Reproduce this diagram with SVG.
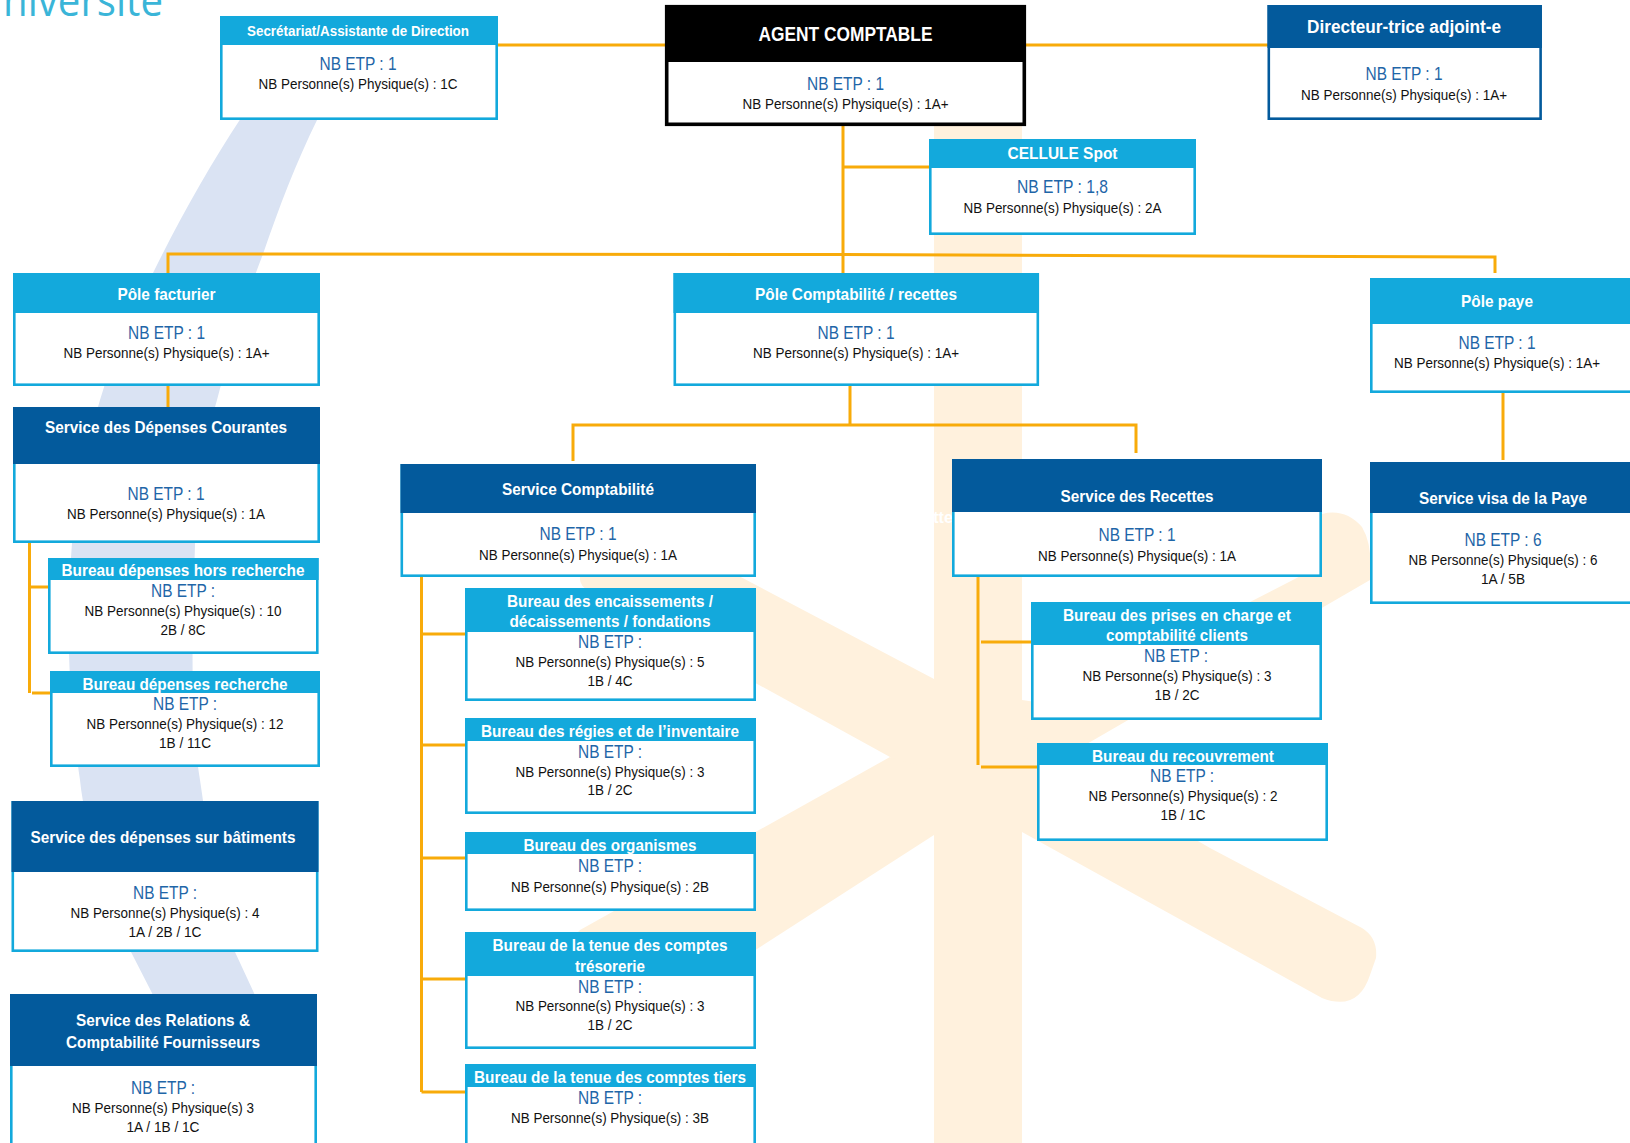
<svg xmlns="http://www.w3.org/2000/svg" width="1630" height="1143" viewBox="0 0 1630 1143">
<style>
text{font-family:"Liberation Sans",Arial,sans-serif;text-anchor:middle}
.box{fill:#fff;stroke:#13a9dc;stroke-width:2.6}
.hl{fill:#13a9dc}
.hd{fill:#035a9c}
.t{fill:#fff;font-weight:700;font-size:16.5px}
.e{fill:#1f66a8;font-size:18.5px}
.p{fill:#111;font-size:15.5px}
.c{fill:none;stroke:#f8ab0a;stroke-width:3}
.star{fill:#fff1dd}
</style>
<g id="background">
<path d="M241 118L318 118C295 165 280 205 263 254C245 300 230 350 217 400C202 450 195 500 195 545C192 640 190 720 200 780C208 840 222 900 235 952L254 993L282 1062L175 1062L152 993L131 952C105 880 85 830 80 780C68 700 66 620 72 543C78 490 88 440 100 400C115 350 132 310 153 273C180 218 210 165 241 118Z" fill="#dae3f3"/>
<path class="star" d="M934 120H1022V1143H934Z"/>
<path class="star" d="M934 679L640 524Q625 516 612 528L586 566Q572 582 590 592L890 757L934 790Z"/>
<path class="star" d="M934 770L890 757L580 930Q566 942 574 958L628 1012Q640 1024 656 1014L934 835Z"/>
<path class="star" d="M1022 790L1085 745L1370 580Q1373 545 1362 527Q1345 508 1322 514V565L1250 602L1157 720L1022 700Z"/>
<path class="star" d="M1022 735L1065 764L1210 848L1362 928Q1378 938 1376 958L1370 975Q1358 1012 1322 998L1022 832Z"/>
<text x="943" y="523" fill="#fff" font-size="16" font-weight="700">tte</text>
<text x="3" y="15.5" style="text-anchor:start;font-family:'Open Sans',sans-serif;font-weight:400" font-size="44" fill="#3ab5d8" textLength="160" lengthAdjust="spacingAndGlyphs">niversite</text>
</g>
<g id="connectors">
<path class="c" d="M498 45H665M1026 45H1268"/>
<path class="c" d="M843 126V273M843 167H929"/>
<path class="c" d="M168 273V254L843 254.500L1495 257V273"/>
<path class="c" d="M168 386V407"/>
<path class="c" d="M850 386V425M573 461V425H1136V453"/>
<path class="c" d="M1503 393V460"/>
<path class="c" d="M29.500 543V693M29.500 587H48M32 693H50"/>
<path class="c" d="M421.500 577V1092M421.500 634H465M421.500 745H465M421.500 858H465M421.500 979H465M421.500 1092H465"/>
<path class="c" d="M978 577V765M981 642H1031M981 767H1037"/>
</g>
<g id="secretariat"><rect class="box" x="221.300" y="17.300" width="275.400" height="101.400"/><rect class="hl" x="220" y="16" width="278" height="29"/><text class="t" x="358" y="36" style="font-size:15px" textLength="222" lengthAdjust="spacingAndGlyphs">Secrétariat/Assistante de Direction</text><text class="e" x="358" y="70" textLength="77" lengthAdjust="spacingAndGlyphs">NB ETP : 1</text><text class="p" x="358" y="89" textLength="199" lengthAdjust="spacingAndGlyphs">NB Personne(s) Physique(s) : 1C</text></g>
<g id="agent"><rect x="666.700" y="6.700" width="357.600" height="117.600" fill="#fff" stroke="#000" stroke-width="3.600"/><rect x="665" y="5" width="361" height="57" fill="#000"/><text class="t" x="845.500" y="41" style="font-size:19.500px" textLength="174" lengthAdjust="spacingAndGlyphs">AGENT COMPTABLE</text><text class="e" x="845.500" y="90" textLength="77" lengthAdjust="spacingAndGlyphs">NB ETP : 1</text><text class="p" x="845.500" y="109" textLength="206" lengthAdjust="spacingAndGlyphs">NB Personne(s) Physique(s) : 1A+</text></g>
<g id="directeur"><rect class="box" x="1268.800" y="6.300" width="271.800" height="112.400" style="stroke:#035a9c"/><rect class="hd" x="1267.500" y="5" width="274.400" height="43"/><text class="t" x="1404" y="33" style="font-size:18px" textLength="194" lengthAdjust="spacingAndGlyphs">Directeur-trice adjoint-e</text><text class="e" x="1404" y="80" textLength="77" lengthAdjust="spacingAndGlyphs">NB ETP : 1</text><text class="p" x="1404" y="100" textLength="206" lengthAdjust="spacingAndGlyphs">NB Personne(s) Physique(s) : 1A+</text></g>
<g id="cellule"><rect class="box" x="930.300" y="140.300" width="264.400" height="93.400"/><rect class="hl" x="929" y="139" width="267" height="29"/><text class="t" x="1062.500" y="159" style="font-size:17px" textLength="110" lengthAdjust="spacingAndGlyphs">CELLULE Spot</text><text class="e" x="1062.500" y="193" textLength="91" lengthAdjust="spacingAndGlyphs">NB ETP : 1,8</text><text class="p" x="1062.500" y="213" textLength="198" lengthAdjust="spacingAndGlyphs">NB Personne(s) Physique(s) : 2A</text></g>
<g id="pole-facturier"><rect class="box" x="14.300" y="274.300" width="304.400" height="110.400"/><rect class="hl" x="13" y="273" width="307" height="40"/><text class="t" x="166.500" y="300" style="font-size:17px" textLength="98" lengthAdjust="spacingAndGlyphs">Pôle facturier</text><text class="e" x="166.500" y="339" textLength="77" lengthAdjust="spacingAndGlyphs">NB ETP : 1</text><text class="p" x="166.500" y="358" textLength="206" lengthAdjust="spacingAndGlyphs">NB Personne(s) Physique(s) : 1A+</text></g>
<g id="pole-comptabilite"><rect class="box" x="674.800" y="274.300" width="363" height="110.400"/><rect class="hl" x="673.500" y="273" width="365.500" height="40"/><text class="t" x="856" y="300" textLength="202" lengthAdjust="spacingAndGlyphs">Pôle Comptabilité / recettes</text><text class="e" x="856" y="339" textLength="77" lengthAdjust="spacingAndGlyphs">NB ETP : 1</text><text class="p" x="856" y="358" textLength="206" lengthAdjust="spacingAndGlyphs">NB Personne(s) Physique(s) : 1A+</text></g>
<g id="pole-paye"><rect class="box" x="1371.300" y="279.300" width="270" height="112.400"/><rect class="hl" x="1370" y="278" width="260" height="46"/><text class="t" x="1497" y="307" style="font-size:17px" textLength="72" lengthAdjust="spacingAndGlyphs">Pôle paye</text><text class="e" x="1497" y="349" textLength="77" lengthAdjust="spacingAndGlyphs">NB ETP : 1</text><text class="p" x="1497" y="368" textLength="206" lengthAdjust="spacingAndGlyphs">NB Personne(s) Physique(s) : 1A+</text></g>
<g id="service-depenses-courantes"><rect class="box" x="14.300" y="408.300" width="304.400" height="133.400"/><rect class="hd" x="13" y="407" width="307" height="57"/><text class="t" x="166" y="433" textLength="242" lengthAdjust="spacingAndGlyphs">Service des Dépenses Courantes</text><text class="e" x="166" y="500" textLength="77" lengthAdjust="spacingAndGlyphs">NB ETP : 1</text><text class="p" x="166" y="519" textLength="198" lengthAdjust="spacingAndGlyphs">NB Personne(s) Physique(s) : 1A</text></g>
<g id="bureau-hors-recherche"><rect class="box" x="49.300" y="559.300" width="268" height="93.400"/><rect class="hl" x="48" y="558" width="270.600" height="22"/><text class="t" x="183" y="576" style="font-size:17px" textLength="243" lengthAdjust="spacingAndGlyphs">Bureau dépenses hors recherche</text><text class="e" x="183" y="597" textLength="64" lengthAdjust="spacingAndGlyphs">NB ETP :</text><text class="p" x="183" y="616" textLength="197" lengthAdjust="spacingAndGlyphs">NB Personne(s) Physique(s) : 10</text><text class="p" x="183" y="635" textLength="45" lengthAdjust="spacingAndGlyphs">2B / 8C</text></g>
<g id="bureau-recherche"><rect class="box" x="51.300" y="672.300" width="267.400" height="93.400"/><rect class="hl" x="50" y="671" width="270" height="22"/><text class="t" x="185" y="690" style="font-size:17px" textLength="205" lengthAdjust="spacingAndGlyphs">Bureau dépenses recherche</text><text class="e" x="185" y="710" textLength="64" lengthAdjust="spacingAndGlyphs">NB ETP :</text><text class="p" x="185" y="729" textLength="197" lengthAdjust="spacingAndGlyphs">NB Personne(s) Physique(s) : 12</text><text class="p" x="185" y="748" textLength="52" lengthAdjust="spacingAndGlyphs">1B / 11C</text></g>
<g id="service-batiments"><rect class="box" x="12.800" y="802.300" width="304.400" height="148.400"/><rect class="hd" x="11.500" y="801" width="307" height="71"/><text class="t" x="163" y="843" textLength="265" lengthAdjust="spacingAndGlyphs">Service des dépenses sur bâtiments</text><text class="e" x="165" y="899" textLength="64" lengthAdjust="spacingAndGlyphs">NB ETP :</text><text class="p" x="165" y="918" textLength="189" lengthAdjust="spacingAndGlyphs">NB Personne(s) Physique(s) : 4</text><text class="p" x="165" y="937" textLength="73" lengthAdjust="spacingAndGlyphs">1A / 2B / 1C</text></g>
<g id="service-relations"><rect class="box" x="11.300" y="995.300" width="304.400" height="160"/><rect class="hd" x="10" y="994" width="307" height="72"/><text class="t" x="163" y="1026" textLength="174" lengthAdjust="spacingAndGlyphs">Service des Relations &amp;</text><text class="t" x="163" y="1048" textLength="194" lengthAdjust="spacingAndGlyphs">Comptabilité Fournisseurs</text><text class="e" x="163" y="1094" textLength="64" lengthAdjust="spacingAndGlyphs">NB ETP :</text><text class="p" x="163" y="1113" textLength="182" lengthAdjust="spacingAndGlyphs">NB Personne(s) Physique(s) 3</text><text class="p" x="163" y="1132" textLength="73" lengthAdjust="spacingAndGlyphs">1A / 1B / 1C</text></g>
<g id="service-comptabilite"><rect class="box" x="401.800" y="465.300" width="352.900" height="110.400"/><rect class="hd" x="400.500" y="464" width="355.500" height="49"/><text class="t" x="578" y="495" textLength="152" lengthAdjust="spacingAndGlyphs">Service Comptabilité</text><text class="e" x="578" y="540" textLength="77" lengthAdjust="spacingAndGlyphs">NB ETP : 1</text><text class="p" x="578" y="560" textLength="198" lengthAdjust="spacingAndGlyphs">NB Personne(s) Physique(s) : 1A</text></g>
<g id="bureau-encaissements"><rect class="box" x="466.300" y="589.300" width="288.400" height="110.400"/><rect class="hl" x="465" y="588" width="291" height="44"/><text class="t" x="610" y="607" style="font-size:17px" textLength="206" lengthAdjust="spacingAndGlyphs">Bureau des encaissements /</text><text class="t" x="610" y="627" style="font-size:17px" textLength="201" lengthAdjust="spacingAndGlyphs">décaissements / fondations</text><text class="e" x="610" y="648" textLength="64" lengthAdjust="spacingAndGlyphs">NB ETP :</text><text class="p" x="610" y="667" textLength="189" lengthAdjust="spacingAndGlyphs">NB Personne(s) Physique(s) : 5</text><text class="p" x="610" y="686" textLength="45" lengthAdjust="spacingAndGlyphs">1B / 4C</text></g>
<g id="bureau-regies"><rect class="box" x="466.300" y="719.300" width="288.400" height="93.400"/><rect class="hl" x="465" y="718" width="291" height="23"/><text class="t" x="610" y="737" style="font-size:17px" textLength="258" lengthAdjust="spacingAndGlyphs">Bureau des régies et de l’inventaire</text><text class="e" x="610" y="758" textLength="64" lengthAdjust="spacingAndGlyphs">NB ETP :</text><text class="p" x="610" y="777" textLength="189" lengthAdjust="spacingAndGlyphs">NB Personne(s) Physique(s) : 3</text><text class="p" x="610" y="795" textLength="45" lengthAdjust="spacingAndGlyphs">1B / 2C</text></g>
<g id="bureau-organismes"><rect class="box" x="466.300" y="833.300" width="288.400" height="76.400"/><rect class="hl" x="465" y="832" width="291" height="22"/><text class="t" x="610" y="851" style="font-size:17px" textLength="173" lengthAdjust="spacingAndGlyphs">Bureau des organismes</text><text class="e" x="610" y="872" textLength="64" lengthAdjust="spacingAndGlyphs">NB ETP :</text><text class="p" x="610" y="892" textLength="198" lengthAdjust="spacingAndGlyphs">NB Personne(s) Physique(s) : 2B</text></g>
<g id="bureau-tresorerie"><rect class="box" x="466.300" y="933.300" width="288.400" height="114.400"/><rect class="hl" x="465" y="932" width="291" height="44"/><text class="t" x="610" y="951" style="font-size:17px" textLength="235" lengthAdjust="spacingAndGlyphs">Bureau de la tenue des comptes</text><text class="t" x="610" y="972" style="font-size:17px" textLength="70" lengthAdjust="spacingAndGlyphs">trésorerie</text><text class="e" x="610" y="993" textLength="64" lengthAdjust="spacingAndGlyphs">NB ETP :</text><text class="p" x="610" y="1011" textLength="189" lengthAdjust="spacingAndGlyphs">NB Personne(s) Physique(s) : 3</text><text class="p" x="610" y="1030" textLength="45" lengthAdjust="spacingAndGlyphs">1B / 2C</text></g>
<g id="bureau-tiers"><rect class="box" x="466.300" y="1065.300" width="288.400" height="100"/><rect class="hl" x="465" y="1064" width="291" height="23"/><text class="t" x="610" y="1083" style="font-size:17px" textLength="272" lengthAdjust="spacingAndGlyphs">Bureau de la tenue des comptes tiers</text><text class="e" x="610" y="1104" textLength="64" lengthAdjust="spacingAndGlyphs">NB ETP :</text><text class="p" x="610" y="1123" textLength="198" lengthAdjust="spacingAndGlyphs">NB Personne(s) Physique(s) : 3B</text></g>
<g id="service-recettes"><rect class="box" x="953.300" y="460.300" width="367.400" height="115.400"/><rect class="hd" x="952" y="459" width="370" height="53"/><text class="t" x="1137" y="502" textLength="153" lengthAdjust="spacingAndGlyphs">Service des Recettes</text><text class="e" x="1137" y="541" textLength="77" lengthAdjust="spacingAndGlyphs">NB ETP : 1</text><text class="p" x="1137" y="561" textLength="198" lengthAdjust="spacingAndGlyphs">NB Personne(s) Physique(s) : 1A</text></g>
<g id="bureau-prises"><rect class="box" x="1032.300" y="603.300" width="288.400" height="115.400"/><rect class="hl" x="1031" y="602" width="291" height="43"/><text class="t" x="1177" y="621" style="font-size:17px" textLength="228" lengthAdjust="spacingAndGlyphs">Bureau des prises en charge et</text><text class="t" x="1177" y="641" style="font-size:17px" textLength="142" lengthAdjust="spacingAndGlyphs">comptabilité clients</text><text class="e" x="1176" y="662" textLength="64" lengthAdjust="spacingAndGlyphs">NB ETP :</text><text class="p" x="1177" y="681" textLength="189" lengthAdjust="spacingAndGlyphs">NB Personne(s) Physique(s) : 3</text><text class="p" x="1177" y="700" textLength="45" lengthAdjust="spacingAndGlyphs">1B / 2C</text></g>
<g id="bureau-recouvrement"><rect class="box" x="1038.300" y="744.300" width="288.400" height="95.400"/><rect class="hl" x="1037" y="743" width="291" height="22"/><text class="t" x="1183" y="762" style="font-size:17px" textLength="182" lengthAdjust="spacingAndGlyphs">Bureau du recouvrement</text><text class="e" x="1182" y="782" textLength="64" lengthAdjust="spacingAndGlyphs">NB ETP :</text><text class="p" x="1183" y="801" textLength="189" lengthAdjust="spacingAndGlyphs">NB Personne(s) Physique(s) : 2</text><text class="p" x="1183" y="820" textLength="45" lengthAdjust="spacingAndGlyphs">1B / 1C</text></g>
<g id="service-visa"><rect class="box" x="1371.300" y="463.300" width="270" height="139.400"/><rect class="hd" x="1370" y="462" width="260" height="51"/><text class="t" x="1503" y="504" textLength="168" lengthAdjust="spacingAndGlyphs">Service visa de la Paye</text><text class="e" x="1503" y="546" textLength="77" lengthAdjust="spacingAndGlyphs">NB ETP : 6</text><text class="p" x="1503" y="565" textLength="189" lengthAdjust="spacingAndGlyphs">NB Personne(s) Physique(s) : 6</text><text class="p" x="1503" y="584" textLength="44" lengthAdjust="spacingAndGlyphs">1A / 5B</text></g>
</svg>
